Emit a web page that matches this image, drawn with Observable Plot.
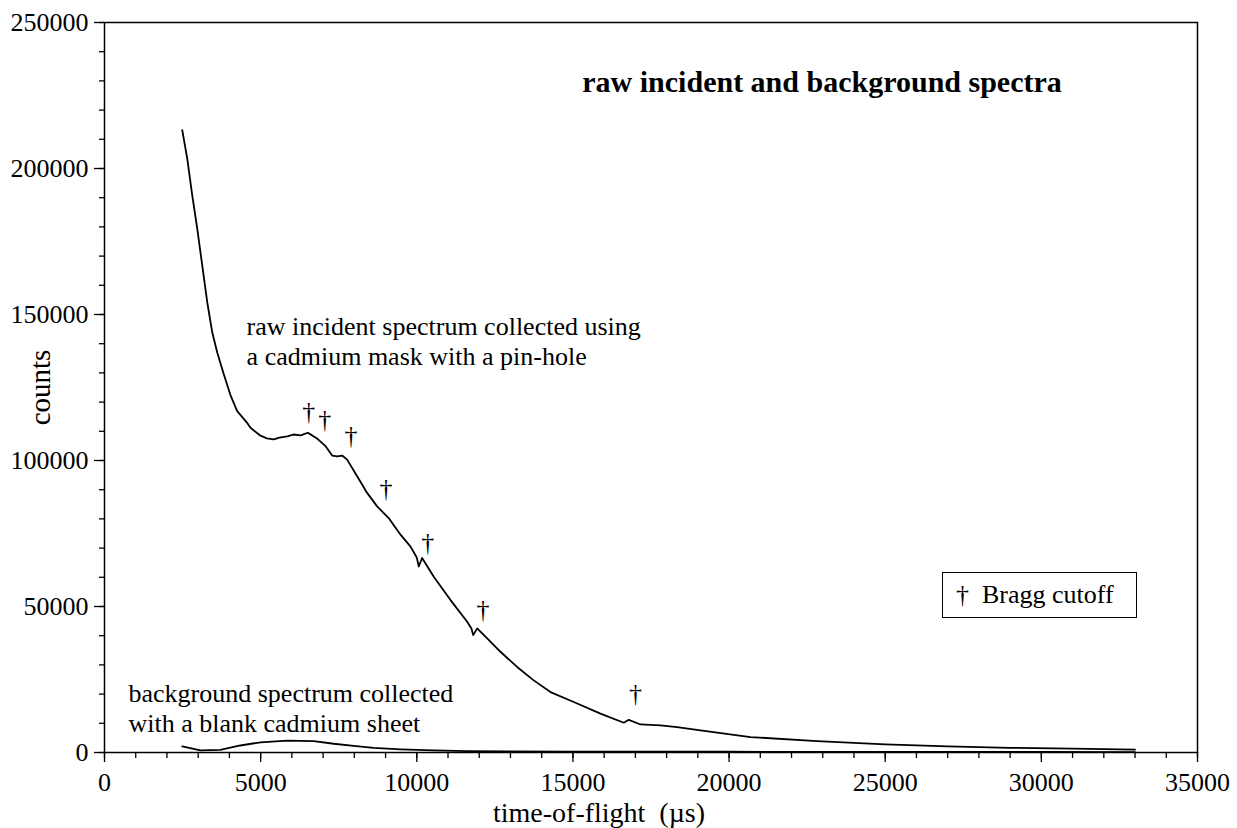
<!DOCTYPE html>
<html>
<head>
<meta charset="utf-8">
<script src="https://cdn.jsdelivr.net/npm/d3@7"></script>
<script src="https://cdn.jsdelivr.net/npm/@observablehq/plot@0.6"></script>
<style>
  html, body { margin: 0; padding: 0; background: #fff; }
  #wrap { position: relative; width: 1237px; height: 828px; font-family: "Liberation Serif", "Times New Roman", serif; }
  #legend { position: absolute; left: 942px; top: 572px; width: 195px; height: 46px; border: 1.5px solid #000; box-sizing: border-box;
            font-size: 26px; line-height: 44px; padding-left: 13px; color: #000; background: #fff; white-space: nowrap; }
</style>
</head>
<body>
<div id="wrap"><div id="legend">†&nbsp;&nbsp;Bragg cutoff</div></div>
<script>
// raw incident spectrum (time-of-flight in µs, counts)
const incidentTof = [2490, 2650, 2810, 2970, 3130, 3290, 3450, 3610, 3820, 4030, 4245, 4565, 4675, 4995, 5200, 5420, 5600, 5850, 6050, 6280, 6510, 6650, 6810, 7080, 7290, 7450, 7610, 7770, 8090, 8410, 8730, 9100, 9480, 9800, 10000, 10064, 10170, 10544, 11080, 11614, 11750, 11806, 11934, 12254, 12680, 13212, 13745, 14281, 15027, 15882, 16628, 16788, 17163, 17804, 18335, 19085, 20685, 22819, 25000, 27000, 29000, 31000, 33000];
const incidentCounts = [213100, 203400, 190800, 179400, 166800, 154200, 143900, 137000, 129500, 122500, 117000, 112900, 111200, 108500, 107600, 107200, 107800, 108300, 108900, 108600, 109500, 108600, 107500, 104900, 101700, 101400, 101700, 100300, 94600, 88900, 84300, 80300, 74600, 70500, 66800, 63700, 66600, 60200, 52200, 44800, 42500, 40200, 42500, 39100, 34500, 29300, 24700, 20700, 17300, 13300, 10200, 11200, 9600, 9300, 8700, 7600, 5300, 3900, 2800, 2100, 1600, 1300, 1000];

// background spectrum
const backgroundTof = [2490, 3070, 3710, 4350, 5000, 5850, 6700, 7340, 7980, 8620, 9480, 10540, 11610, 13000, 15000, 20000, 25000, 30000, 33000];
const backgroundCounts = [2100, 700, 900, 2400, 3500, 4100, 3900, 3000, 2300, 1600, 1100, 700, 450, 400, 300, 250, 200, 200, 150];

// Bragg cutoff markers
const braggTof = [6540, 7051, 7896, 9017, 10352, 12122, 17000];
const braggCounts = [116600, 114100, 108600, 90400, 71700, 49000, 20200];

// tick values
const xMajorTicks = [0, 5000, 10000, 15000, 20000, 25000, 30000, 35000];
const xMinorTicks = d3.range(0, 35001, 1000);
const yMajorTicks = [0, 50000, 100000, 150000, 200000, 250000];
const yMinorTicks = d3.range(0, 250001, 10000);

// annotations
const annotations = [
  {x: 15300, y: 229500, text: "raw incident and background spectra", bold: true},
  {x: 4550, y: 141200, text: "raw incident spectrum collected using\na cadmium mask with a pin-hole", bold: false},
  {x: 768, y: 15500, text: "background spectrum collected\nwith a blank cadmium sheet", bold: false}
];

const incident = incidentTof.map((t, i) => ({t, c: incidentCounts[i]}));
const background = backgroundTof.map((t, i) => ({t, c: backgroundCounts[i]}));
const bragg = braggTof.map((t, i) => ({t, c: braggCounts[i]}));

const chart = Plot.plot({
  width: 1237,
  height: 828,
  marginLeft: 104,
  marginRight: 40,
  marginTop: 22,
  marginBottom: 76,
  style: {fontFamily: "'Liberation Serif', 'Times New Roman', serif", color: "#000", background: "#fff", overflow: "visible"},
  x: {domain: [0, 35000]},
  y: {domain: [0, 250000]},
  marks: [
    Plot.frame({stroke: "#000", strokeWidth: 1.5}),
    Plot.axisX({ticks: xMinorTicks, tickSize: 6, tickFormat: () => "", label: null, strokeWidth: 1.3}),
    Plot.axisX({ticks: xMajorTicks, tickSize: 10, tickPadding: 10, tickFormat: d3.format("d"), fontSize: 26, label: null, strokeWidth: 1.3}),
    Plot.axisY({ticks: yMinorTicks, tickSize: 5, tickFormat: () => "", label: null, strokeWidth: 1.3}),
    Plot.axisY({ticks: yMajorTicks, tickSize: 10, tickPadding: 6, tickFormat: d3.format("d"), fontSize: 26, label: null, strokeWidth: 1.3}),
    Plot.text(["counts"], {frameAnchor: "left", textAnchor: "middle", dx: -64, rotate: -90, fontSize: 29}),
    Plot.text(["time-of-flight  (µs)"], {frameAnchor: "bottom", textAnchor: "middle", lineAnchor: "middle", dx: -52, dy: 61, fontSize: 28}),
    Plot.line(background, {x: "t", y: "c", stroke: "#000", strokeWidth: 1.8}),
    Plot.line(incident, {x: "t", y: "c", stroke: "#000", strokeWidth: 1.8}),
    Plot.text(bragg, {x: "t", y: "c", text: () => "†", fontSize: 26}),
    Plot.text(annotations.filter(d => !d.bold), {x: "x", y: "y", text: "text", textAnchor: "start", fontSize: 26, lineHeight: 1.15}),
    Plot.text(annotations.filter(d => d.bold), {x: "x", y: "y", text: "text", textAnchor: "start", fontSize: 30, fontWeight: "bold"})
  ]
});
document.getElementById("wrap").prepend(chart);
chart.style.position = "absolute";
chart.style.left = "0";
chart.style.top = "0";
</script>
</body>
</html>
